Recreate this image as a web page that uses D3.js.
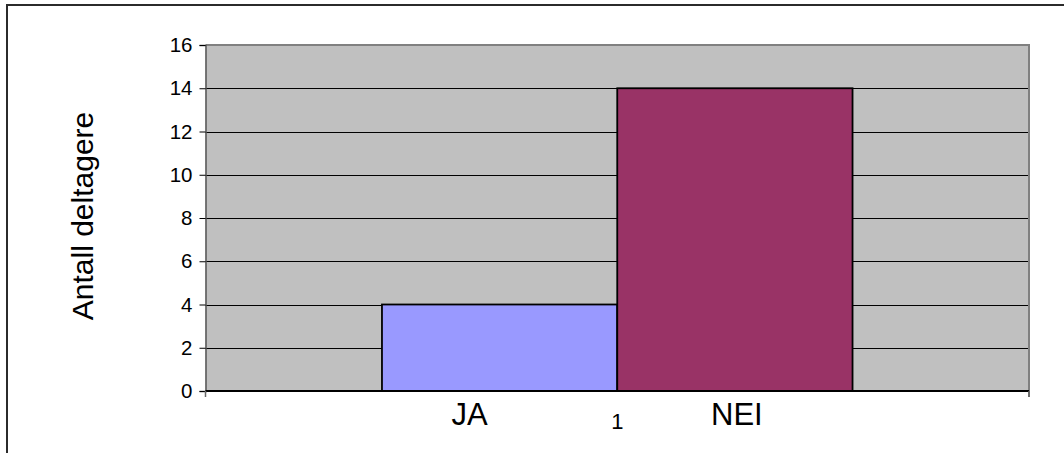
<!DOCTYPE html>
<html>
<head>
<meta charset="utf-8">
<script src="https://cdn.jsdelivr.net/npm/d3@7"></script>
<style>
  body { margin: 0; background: #fff; }
  text { font-family: "Liberation Sans", Arial, sans-serif; }
</style>
</head>
<body>
<div id="chart"></div>
<script>
// data
let categories = ["1"];
let series = ["JA", "NEI"];
let values = [4, 14];
let colors = ["#9999FF", "#993366"];
let yTicks = [0, 2, 4, 6, 8, 10, 12, 14, 16];

function gen_bar_chart() {
    let width = 1064,
        height = 453;
    let margin = { left: 205.5, right: 35, top: 45, bottom: 62 };

    let svg = d3.select("#chart")
        .append("svg")
        .attr("width", width)
        .attr("height", height);

    // outer chart frame (cut off at right and bottom)
    svg.append("rect")
        .attr("x", 7).attr("y", 5)
        .attr("width", 1080).attr("height", 480)
        .attr("fill", "none")
        .attr("stroke", "#2b2b2b")
        .attr("stroke-width", 2);

    let x0 = d3.scaleBand()
        .domain(categories)
        .range([margin.left, width - margin.right]);

    let x1 = d3.scaleBand()
        .domain(series)
        .range([0, x0.bandwidth()])
        .paddingInner(0)
        .paddingOuter(0.75);

    let y = d3.scaleLinear()
        .domain([0, 16])
        .range([height - margin.bottom, margin.top]);

    // plot area
    svg.append("rect")
        .attr("x", x0.range()[0])
        .attr("y", y(16))
        .attr("width", x0.range()[1] - x0.range()[0])
        .attr("height", y(0) - y(16))
        .attr("fill", "#C0C0C0");

    // gridlines
    svg.append("g")
        .selectAll("line")
        .data(yTicks.filter(d => d > 0 && d < 16))
        .enter().append("line")
        .attr("x1", x0.range()[0])
        .attr("x2", x0.range()[1])
        .attr("y1", d => Math.round(y(d)) + 0.5)
        .attr("y2", d => Math.round(y(d)) + 0.5)
        .attr("stroke", "#000")
        .attr("stroke-width", 1.2);

    // plot border top/right
    svg.append("path")
        .attr("d", `M${x0.range()[0]},${y(16)}H${x0.range()[1]}V${y(0) + 6}`)
        .attr("fill", "none")
        .attr("stroke", "#808080")
        .attr("stroke-width", 2);

    // bars
    let g = svg.append("g")
        .attr("transform", `translate(${x0(categories[0])},0)`);

    g.selectAll("rect")
        .data(series)
        .enter().append("rect")
        .attr("x", d => x1(d))
        .attr("y", (d, i) => y(values[i]))
        .attr("width", x1.bandwidth())
        .attr("height", (d, i) => y(0) - y(values[i]))
        .attr("fill", (d, i) => colors[i])
        .attr("stroke", "#000")
        .attr("stroke-width", 1.8);

    // y axis
    let yAxis = d3.axisLeft(y)
        .tickValues(yTicks)
        .tickSize(6)
        .tickPadding(7);

    let ya = svg.append("g")
        .attr("transform", `translate(${x0.range()[0]},0)`)
        .call(yAxis);
    ya.select(".domain").attr("stroke", "#555").attr("stroke-width", 1.5);
    ya.selectAll(".tick line").attr("stroke", "#000");
    ya.selectAll(".tick text")
        .attr("font-size", 20.5)
        .attr("font-family", "'Liberation Sans', Arial, sans-serif")
        .attr("fill", "#000");

    // x axis line
    svg.append("line")
        .attr("x1", x0.range()[0])
        .attr("x2", x0.range()[1])
        .attr("y1", y(0))
        .attr("y2", y(0))
        .attr("stroke", "#000")
        .attr("stroke-width", 2);

    // category boundary ticks
    svg.append("g")
        .selectAll("line")
        .data(x0.range())
        .enter().append("line")
        .attr("x1", d => d).attr("x2", d => d)
        .attr("y1", y(0)).attr("y2", y(0) + 6)
        .attr("stroke", "#666")
        .attr("stroke-width", 1.5);

    // category label
    svg.append("text")
        .attr("x", x0(categories[0]) + x0.bandwidth() / 2)
        .attr("y", y(0) + 38)
        .attr("text-anchor", "middle")
        .attr("font-size", 22)
        .text(categories[0]);

    // series labels under the bars
    g.selectAll("text.series")
        .data(series)
        .enter().append("text")
        .attr("class", "series")
        .attr("x", (d, i) => x1(d) + x1.bandwidth() / 2 + (i === 0 ? -30 : 2))
        .attr("y", y(0) + 34)
        .attr("text-anchor", "middle")
        .attr("font-size", 31)
        .text(d => d);

    // y axis title
    svg.append("text")
        .attr("transform", `translate(93,${(y(0) + y(16)) / 2 - 2}) rotate(-90)`)
        .attr("text-anchor", "middle")
        .attr("font-size", 30)
        .text("Antall deltagere");
}

gen_bar_chart();
</script>
</body>
</html>
